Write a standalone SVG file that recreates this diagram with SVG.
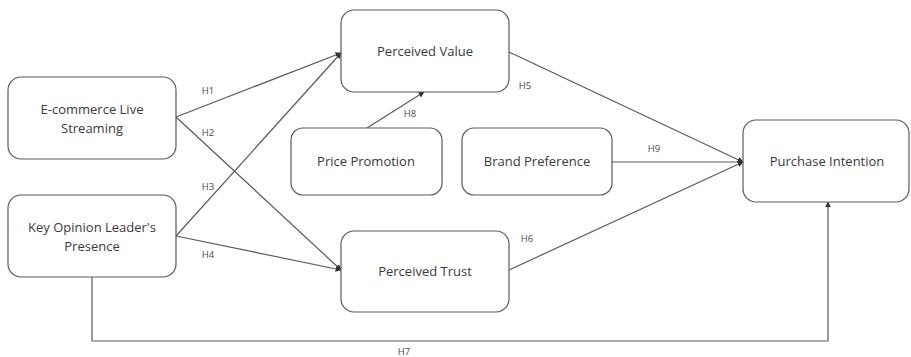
<svg xmlns="http://www.w3.org/2000/svg" width="911" height="357" viewBox="0 0 911 357">
  <style>
    .box { fill: #ffffff; stroke: #5a5a5a; stroke-width: 1.2; }
    .lbl { font-family: "Open Sans", "Liberation Sans", sans-serif; font-size: 13px; fill: #3a3a3a; text-anchor: middle; }
    .hyp { font-family: "Open Sans", "Liberation Sans", sans-serif; font-size: 9.5px; fill: #4a4a4a; text-anchor: middle; }
    .edge { fill: none; stroke: #5a5a5a; stroke-width: 1.2; }
  </style>
  <defs>
    <marker id="arrow" viewBox="0 0 10 10" refX="9" refY="5" markerWidth="6" markerHeight="6" markerUnits="userSpaceOnUse" orient="auto">
      <path d="M0,0 L10,5 L0,10 z" fill="#333333"/>
    </marker>
  </defs>
  <rect width="911" height="357" fill="#ffffff"/>

  <g id="connectors">
    <!-- H1: live streaming -> perceived value -->
    <line class="edge" x1="176" y1="117" x2="341" y2="53" marker-end="url(#arrow)"/>
    <!-- H2: live streaming -> perceived trust -->
    <line class="edge" x1="176" y1="117" x2="341" y2="270" marker-end="url(#arrow)"/>
    <!-- H3: KOL -> perceived value -->
    <line class="edge" x1="176" y1="236" x2="341" y2="53" marker-end="url(#arrow)"/>
    <!-- H4: KOL -> perceived trust -->
    <line class="edge" x1="176" y1="236" x2="341" y2="270" marker-end="url(#arrow)"/>
    <!-- H5: perceived value -> purchase intention -->
    <line class="edge" x1="509" y1="52" x2="743" y2="162" marker-end="url(#arrow)"/>
    <!-- H6: perceived trust -> purchase intention -->
    <line class="edge" x1="509" y1="270" x2="743" y2="162" marker-end="url(#arrow)"/>
    <!-- H7: KOL -> purchase intention (routed below) -->
    <polyline class="edge" points="92,277 92,341 828,341 828,202" marker-end="url(#arrow)"/>
    <!-- H8: price promotion -> perceived value -->
    <line class="edge" x1="367" y1="128" x2="424" y2="92" marker-end="url(#arrow)"/>
    <!-- H9: brand preference -> purchase intention -->
    <line class="edge" x1="612" y1="162" x2="743" y2="162" marker-end="url(#arrow)"/>

    <text class="hyp" x="208" y="94">H1</text>
    <text class="hyp" x="208" y="136">H2</text>
    <text class="hyp" x="208" y="190">H3</text>
    <text class="hyp" x="208" y="258">H4</text>
    <text class="hyp" x="525" y="89">H5</text>
    <text class="hyp" x="527" y="242">H6</text>
    <text class="hyp" x="404" y="355">H7</text>
    <text class="hyp" x="410" y="117">H8</text>
    <text class="hyp" x="654" y="152">H9</text>
  </g>

  <g id="node-live-streaming">
    <rect class="box" x="8" y="77" width="168" height="82" rx="13"/>
    <text class="lbl" x="92" y="114">E-commerce Live</text>
    <text class="lbl" x="92" y="133">Streaming</text>
  </g>

  <g id="node-kol">
    <rect class="box" x="8" y="195" width="168" height="82" rx="13"/>
    <text class="lbl" x="92" y="232">Key Opinion Leader's</text>
    <text class="lbl" x="92" y="251">Presence</text>
  </g>

  <g id="node-perceived-value">
    <rect class="box" x="341" y="10" width="168" height="82" rx="13"/>
    <text class="lbl" x="425" y="56">Perceived Value</text>
  </g>

  <g id="node-price-promotion">
    <rect class="box" x="291" y="128" width="151" height="67" rx="12"/>
    <text class="lbl" x="366" y="166">Price Promotion</text>
  </g>

  <g id="node-brand-preference">
    <rect class="box" x="462" y="128" width="150" height="67" rx="12"/>
    <text class="lbl" x="537" y="166">Brand Preference</text>
  </g>

  <g id="node-perceived-trust">
    <rect class="box" x="341" y="231" width="168" height="81" rx="13"/>
    <text class="lbl" x="425" y="276">Perceived Trust</text>
  </g>

  <g id="node-purchase-intention">
    <rect class="box" x="743" y="120" width="166" height="82" rx="13"/>
    <text class="lbl" x="827" y="166">Purchase Intention</text>
  </g>
</svg>
